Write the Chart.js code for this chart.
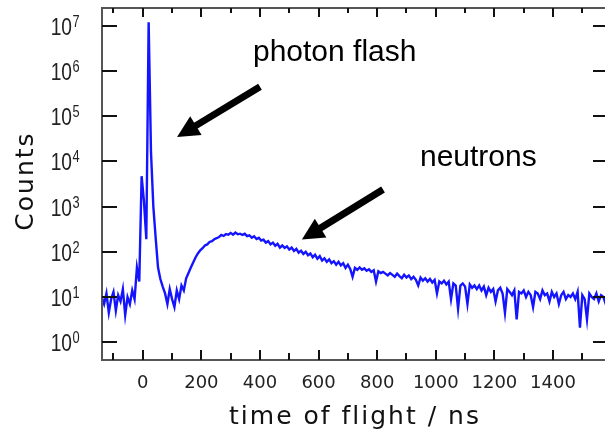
<!DOCTYPE html>
<html lang="en">
<head>
<meta charset="UTF-8">
<script src="https://cdn.jsdelivr.net/npm/chart.js"></script>
<title>time of flight</title>
<style>
  html, body { margin: 0; padding: 0; background: #fff; overflow: hidden; }
  #wrap { width: 605px; height: 436px; overflow: hidden; }
</style>
</head>
<body>
<div id="wrap"><canvas id="tof" width="612" height="436"></canvas></div>
<script>
// histogram, bin centres from -140 ns, 8 ns wide
const binStart = -140;
const binWidth = 8;
const counts = [
  10, 7, 12, 4.5, 9, 13, 5, 11, 8, 15,
  4, 10, 7, 14, 9, 45, 22, 4700, 1300, 190,
  12000000, 16000, 1000, 200, 45, 25, 17, 12, 7, 15,
  9, 6, 14, 9, 18, 14, 26, 34, 45, 58,
  75, 92, 108, 120, 138, 146, 165, 172, 190, 200,
  212, 236, 224, 246, 238, 262, 240, 266, 244, 252,
  236, 250, 222, 232, 204, 220, 192, 204, 178, 186,
  160, 172, 146, 160, 136, 150, 124, 138, 122, 132,
  112, 124, 104, 116, 96, 106, 90, 100, 84, 92,
  76, 86, 70, 80, 64, 72, 60, 68, 56, 62,
  52, 60, 50, 56, 44, 52, 42, 28, 44, 40,
  45, 40, 43, 38, 41, 36, 39, 22, 37, 34,
  36, 33, 30, 34, 31, 28, 33, 29, 26, 31,
  27, 30, 25, 28, 24, 18, 27, 23, 26, 22,
  25, 21, 24, 12, 22, 20, 23, 19, 22, 9,
  20, 18, 5.5, 18, 20, 17, 7, 19, 16, 18,
  15, 18, 14, 17, 11, 16, 13, 15, 8, 14,
  16, 12, 4.5, 15, 13, 11, 14, 3.2, 13, 12,
  14, 10, 13, 11, 6, 13, 12, 9, 14, 11,
  12, 8, 13, 10, 12, 7, 11, 13, 9, 11,
  10, 12, 9, 13, 2.1, 11, 9, 3.2, 12, 10,
  9, 12, 8, 11, 10, 7, 10
];
const tof = counts.map((_, i) => binStart + i * binWidth);

const xTicks = [0, 200, 400, 600, 800, 1000, 1200, 1400];
const xMinorTicks = [-100, 100, 300, 500, 700, 900, 1100, 1300, 1500];
const yExponents = [0, 1, 2, 3, 4, 5, 6, 7];
const xTitle = 'time of flight / ns';
const yTitle = 'Counts';

// annotations, placed in data coordinates
const notes = [
  { text: 'photon flash', at: [376, 10 ** 6.21], tail: [400, 10 ** 5.65], tip: [117, 10 ** 4.54] },
  { text: 'neutrons', at: [946, 10 ** 3.9], tail: [820, 10 ** 3.38], tip: [543, 10 ** 2.27] }
];

const frame = {
  id: 'frame',
  afterDraw(chart) {
    const { ctx, chartArea: a, scales: { x, y } } = chart;
    ctx.save();

    // box
    ctx.strokeStyle = '#555';
    ctx.lineWidth = 2;
    ctx.strokeRect(a.left, a.top, a.right - a.left, a.bottom - a.top);

    // ticks, pointing inwards
    ctx.strokeStyle = '#111';
    ctx.beginPath();
    xTicks.forEach(v => {
      const px = Math.round(x.getPixelForValue(v));
      ctx.moveTo(px, a.bottom); ctx.lineTo(px, a.bottom - 10);
      ctx.moveTo(px, a.top); ctx.lineTo(px, a.top + 9);
    });
    xMinorTicks.forEach(v => {
      const px = Math.round(x.getPixelForValue(v));
      ctx.moveTo(px, a.bottom); ctx.lineTo(px, a.bottom - 7);
      ctx.moveTo(px, a.top); ctx.lineTo(px, a.top + 5);
    });
    yExponents.forEach(e => {
      const py = Math.round(y.getPixelForValue(10 ** e));
      ctx.moveTo(a.left, py); ctx.lineTo(a.left + 15, py);
      ctx.moveTo(a.right, py); ctx.lineTo(a.right - 15, py);
    });
    ctx.stroke();

    // x tick labels
    ctx.fillStyle = '#222';
    ctx.font = '18px "DejaVu Sans"';
    ctx.textAlign = 'center';
    ctx.textBaseline = 'middle';
    xTicks.forEach(v => ctx.fillText(String(v), x.getPixelForValue(v), 383));

    // y tick labels 10^n
    yExponents.forEach(e => {
      const py = y.getPixelForValue(10 ** e);
      ctx.save();
      ctx.translate(72, py + 9);
      ctx.scale(0.8, 1);
      ctx.textAlign = 'right';
      ctx.textBaseline = 'alphabetic';
      ctx.font = '24px "Liberation Sans"';
      ctx.fillText('10', 0, 0);
      ctx.restore();
      ctx.save();
      ctx.translate(72.5, py + 1);
      ctx.scale(0.8, 1);
      ctx.textAlign = 'left';
      ctx.textBaseline = 'alphabetic';
      ctx.font = '16px "Liberation Sans"';
      ctx.fillText(String(e), 0, 0);
      ctx.restore();
    });

    // axis titles
    ctx.fillStyle = '#111';
    ctx.font = '25px "DejaVu Sans"';
    ctx.letterSpacing = '2px';
    ctx.textAlign = 'center';
    ctx.textBaseline = 'alphabetic';
    ctx.fillText(xTitle, (a.left + a.right) / 2, 424);
    ctx.save();
    ctx.translate(33, 181);
    ctx.rotate(-Math.PI / 2);
    ctx.fillText(yTitle, 0, 0);
    ctx.restore();
    ctx.letterSpacing = '0px';

    // arrows and notes
    ctx.fillStyle = '#000';
    ctx.strokeStyle = '#000';
    ctx.font = '30px "Liberation Sans"';
    ctx.textAlign = 'left';
    notes.forEach(n => {
      const tx = x.getPixelForValue(n.tail[0]), ty = y.getPixelForValue(n.tail[1]);
      const hx = x.getPixelForValue(n.tip[0]), hy = y.getPixelForValue(n.tip[1]);
      const ang = Math.atan2(hy - ty, hx - tx);
      const len = 22, half = 11;
      const bx = hx - len * Math.cos(ang), by = hy - len * Math.sin(ang);
      ctx.lineWidth = 7;
      ctx.beginPath();
      ctx.moveTo(tx, ty);
      ctx.lineTo(bx + 2 * Math.cos(ang), by + 2 * Math.sin(ang));
      ctx.stroke();
      ctx.beginPath();
      ctx.moveTo(hx, hy);
      ctx.lineTo(bx + half * Math.sin(ang), by - half * Math.cos(ang));
      ctx.lineTo(bx - half * Math.sin(ang), by + half * Math.cos(ang));
      ctx.closePath();
      ctx.fill();
      ctx.fillText(n.text, x.getPixelForValue(n.at[0]), y.getPixelForValue(n.at[1]));
    });

    ctx.restore();
  }
};

new Chart(document.getElementById('tof'), {
  type: 'line',
  data: {
    datasets: [{
      data: tof.map((t, i) => ({ x: t, y: counts[i] })),
      borderColor: 'rgb(20, 20, 255)',
      borderWidth: 2.4,
      pointRadius: 0,
      tension: 0,
      fill: false
    }]
  },
  options: {
    responsive: false,
    animation: false,
    events: [],
    layout: { padding: { left: 102, top: 8, right: 4, bottom: 76 } },
    plugins: { legend: { display: false }, tooltip: { enabled: false } },
    scales: {
      x: { type: 'linear', min: -139.2, max: 1587.7, display: false },
      y: { type: 'logarithmic', min: 10 ** -0.393, max: 10 ** 7.393, display: false }
    }
  },
  plugins: [frame]
});
</script>
</body>
</html>
